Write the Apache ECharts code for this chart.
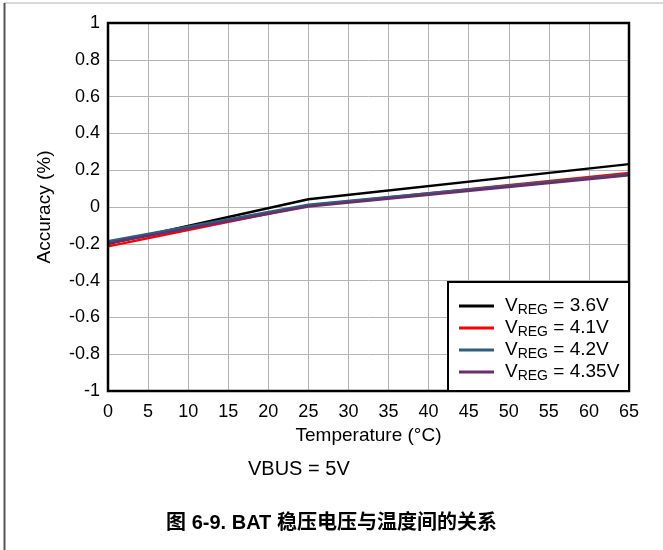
<!DOCTYPE html>
<html>
<head>
<meta charset="utf-8">
<script src="https://cdn.jsdelivr.net/npm/echarts@6/dist/echarts.min.js"></script>
<style>
  html, body { margin: 0; padding: 0; background: #fff; }
  #chart { width: 663px; height: 550px; }
</style>
</head>
<body>
<div id="chart"></div>
<script>
// Temperature points (°C) and regulation accuracy (%) for each VREG setting
const temperatures = [0, 25, 65];
const vreg36 = [-0.200, 0.042, 0.233];
const vreg41 = [-0.214, 0.008, 0.185];
const vreg42 = [-0.186, 0.012, 0.178];
const vreg435 = [-0.197, 0.003, 0.172];

const seriesNames = ['3.6V', '4.1V', '4.2V', '4.35V'];
const seriesValues = [vreg36, vreg41, vreg42, vreg435];
const seriesColors = ['#000000', '#ff0000', '#2e5f7f', '#6b2c6b'];

const FONT = 'Liberation Sans, Arial, sans-serif';

const chart = echarts.init(document.getElementById('chart'));

const series = seriesNames.map((n, i) => ({
  name: n,
  type: 'line',
  data: temperatures.map((t, k) => [t, seriesValues[i][k]]),
  showSymbol: false,
  symbol: 'none',
  lineStyle: { color: seriesColors[i], width: 2.5 },
  itemStyle: { color: seriesColors[i] },
  z: 3 + i
}));

chart.setOption({
  animation: false,
  grid: {
    left: 108, right: 34, top: 23, bottom: 159,
    show: true, borderColor: '#000', borderWidth: 2.5, z: 10
  },
  xAxis: {
    type: 'value', min: 0, max: 65, interval: 5,
    name: 'Temperature (°C)', nameLocation: 'middle', nameGap: 35,
    nameTextStyle: { fontFamily: FONT, fontSize: 19, color: '#000' },
    axisLine: { show: false },
    axisTick: { show: false },
    axisLabel: { fontFamily: FONT, fontSize: 18, color: '#000', margin: 12 },
    splitLine: { show: true, lineStyle: { color: '#b4b4b4', width: 1 } }
  },
  yAxis: {
    type: 'value', min: -1, max: 1, interval: 0.2,
    name: 'Accuracy (%)', nameLocation: 'middle', nameGap: 54,
    nameTextStyle: { fontFamily: FONT, fontSize: 19, color: '#000' },
    axisLine: { show: false },
    axisTick: { show: false },
    axisLabel: {
      fontFamily: FONT, fontSize: 18, color: '#000', margin: 8,
      formatter: v => String(Math.round(v * 10) / 10)
    },
    splitLine: { show: true, lineStyle: { color: '#b4b4b4', width: 1 } }
  },
  legend: {
    orient: 'vertical',
    left: 449, top: 285,
    padding: [10, 0, 0, 10],
    itemWidth: 35, itemHeight: 3, itemGap: 0,
    icon: 'rect',
    data: seriesNames,
    formatter: name => '{p|}{v|V}{s|REG}{v| = ' + name + '}',
    textStyle: {
      fontFamily: FONT, color: '#000',
      rich: {
        p: { width: 6, lineHeight: 20 },
        v: { fontFamily: FONT, fontSize: 19, color: '#000', lineHeight: 20 },
        s: { fontFamily: FONT, fontSize: 14, color: '#000', padding: [8, 0, 0, 0], lineHeight: 12 }
      }
    },
    z: 30
  },
  graphic: [
    { type: 'line', shape: { x1: 4, y1: 3, x2: 663, y2: 3 }, style: { stroke: '#b0b0b0', lineWidth: 1 } },
    { type: 'line', shape: { x1: 4.5, y1: 3, x2: 4.5, y2: 550 }, style: { stroke: '#555', lineWidth: 2 } },
    // legend frame
    { type: 'rect', z: 20, shape: { x: 448, y: 282, width: 181, height: 109 },
      style: { fill: '#fff', stroke: '#000', lineWidth: 2 } },
    { type: 'text', left: 248, top: 459,
      style: { text: 'VBUS = 5V', font: '20px ' + FONT, fill: '#000' } },
    { type: 'text', left: 'center', top: 513,
      style: { text: '图 6-9. BAT 稳压电压与温度间的关系', font: 'bold 20px "Liberation Sans", "Noto Sans CJK SC", sans-serif', fill: '#000' } }
  ],
  series: series
});
</script>
</body>
</html>
